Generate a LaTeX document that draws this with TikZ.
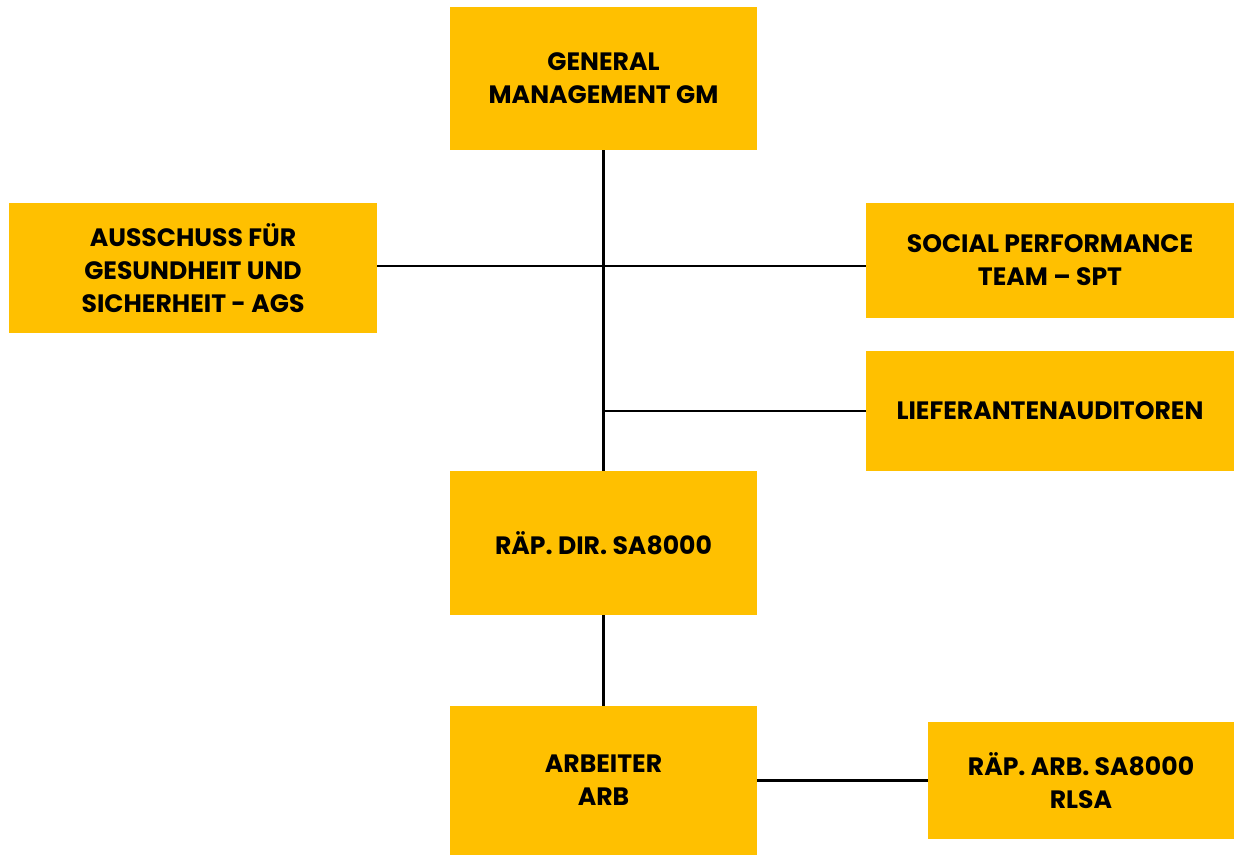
\documentclass[tikz,border=0pt]{standalone}
\usepackage{fontspec}
\usepackage{tikz}
\usepackage{xcolor}
\setmainfont{Poppins}
\definecolor{boxgold}{HTML}{FFC000}

\begin{document}
\begin{tikzpicture}[x=0.02cm,y=-0.02cm,
        box/.style={fill=boxgold, inner sep=0pt, align=center,
            font=\fontsize{14.3}{18.7}\selectfont\bfseries},
        link/.style={line width=1.2pt, black}]
                % frame
                \useasboundingbox (0,0) rectangle (1234,855);

                % boxes
                \node[box, minimum width=6.14cm, minimum height=2.86cm] (gm) at (603.5,78.5) {GENERAL\\MANAGEMENT GM};
                \node[box, minimum width=7.36cm, minimum height=2.6cm] (ags) at (193,268) {AUSSCHUSS FÜR\\GESUNDHEIT UND\\SICHERHEIT - AGS};
                \node[box, minimum width=7.36cm, minimum height=2.3cm] (spt) at (1050,260.5) {SOCIAL PERFORMANCE\\TEAM – SPT};
                \node[box, minimum width=7.36cm, minimum height=2.4cm] (lief) at (1050,411) {LIEFERANTENAUDITOREN};
                \node[box, minimum width=6.14cm, minimum height=2.88cm] (dir) at (603.5,543) {RÄP. DIR. SA8000};
                \node[box, minimum width=6.14cm, minimum height=2.98cm] (arb) at (603.5,780.5) {ARBEITER\\ARB};
                \node[box, minimum width=6.12cm, minimum height=2.34cm] (rlsa) at (1081,780.5) {RÄP. ARB. SA8000\\RLSA};

                % junction on the main line
                \coordinate (hub) at (603.5,266);

                % connectors
                \draw[link] (gm.south) -- (dir.north);
                \draw[link] (ags.east |- hub) -- (spt.west |- hub);
                \draw[link] (lief.west) -- (gm.south |- lief.west);
                \draw[link] (dir.south) -- (arb.north);
                \draw[link] (arb.east |- rlsa.west) -- (rlsa.west);
\end{tikzpicture}
\end{document}
